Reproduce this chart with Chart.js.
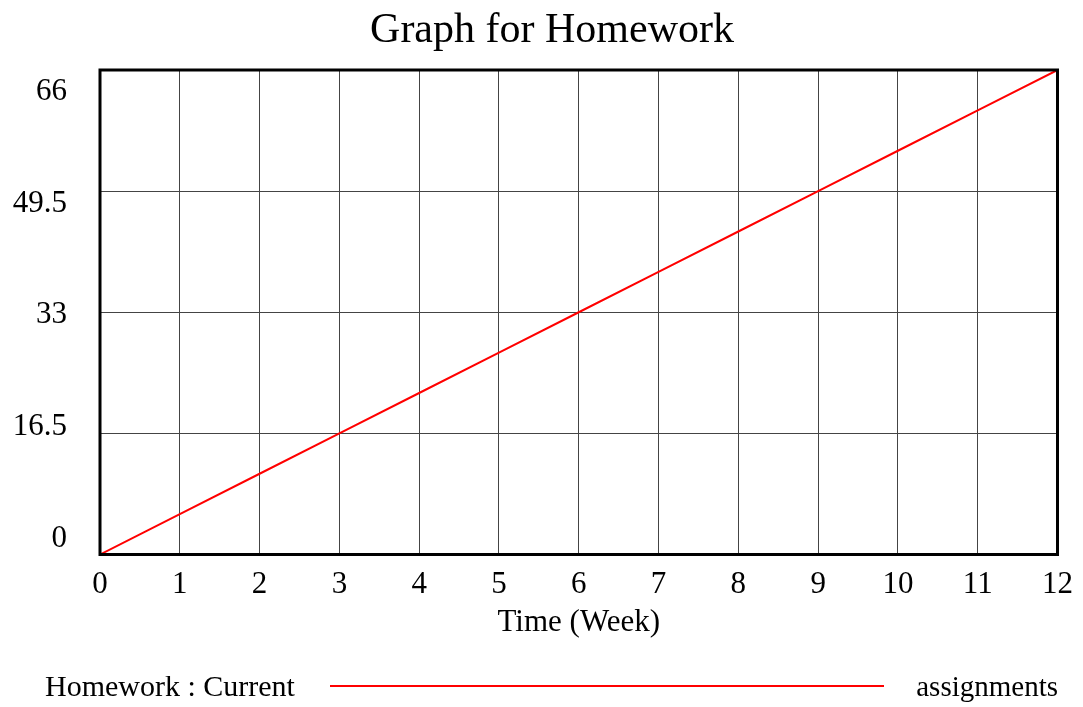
<!DOCTYPE html>
<html lang="en">
<head>
  <meta charset="UTF-8">
  <title>Graph for Homework</title>
  <script src="https://cdn.jsdelivr.net/npm/chart.js"></script>
  <style>
    html, body { margin: 0; padding: 0; background: #fff; }
    canvas { display: block; }
  </style>
</head>
<body>
  <canvas id="grafico" width="1083" height="707"></canvas>
  <script>
    // weeks and the homework assignments over time
    const semanas = [0, 1, 2, 3, 4, 5, 6, 7, 8, 9, 10, 11, 12];
    const tarefas = [0, 5.5, 11, 16.5, 22, 27.5, 33, 38.5, 44, 49.5, 55, 60.5, 66];
    const ticksY = [0, 16.5, 33, 49.5, 66];

    const titulo = 'Graph for Homework';
    const fonte = "'Liberation Serif', 'Times New Roman', serif";

    // title, frame around the plot area and the bottom legend row
    const moldura = {
      id: 'moldura',
      afterDatasetsDraw(chart) {
        const a = chart.chartArea;
        const ctx = chart.ctx;
        ctx.save();
        ctx.strokeStyle = '#000';
        ctx.lineWidth = 3;
        ctx.strokeRect(a.left, a.top, a.right - a.left, a.bottom - a.top);
        ctx.restore();
      },
      afterDraw(chart) {
        const ds = chart.data.datasets[0];
        const ctx = chart.ctx;
        ctx.save();
        ctx.fillStyle = '#000';
        ctx.textBaseline = 'middle';

        ctx.textAlign = 'center';
        ctx.font = '42px ' + fonte;
        ctx.fillText(titulo, 552, 31);

        ctx.textAlign = 'left';
        ctx.font = '30px ' + fonte;
        ctx.fillText('Homework : Current', 45, 688);
        ctx.textAlign = 'right';
        ctx.font = '29px ' + fonte;
        ctx.fillText(ds.label, 1058, 688);
        ctx.strokeStyle = ds.borderColor;
        ctx.lineWidth = 2;
        ctx.beginPath();
        ctx.moveTo(330, 686);
        ctx.lineTo(884, 686);
        ctx.stroke();
        ctx.restore();
      }
    };

    new Chart(document.getElementById('grafico'), {
      type: 'line',
      data: {
        datasets: [{
          label: 'assignments',
          data: semanas.map((s, i) => ({ x: s, y: tarefas[i] })),
          borderColor: '#ff0000',
          borderWidth: 2,
          pointRadius: 0,
          tension: 0,
          yAxisID: 'y'
        }]
      },
      options: {
        responsive: false,
        animation: false,
        layout: { padding: { left: 0, right: 25, top: 70, bottom: 66 } },
        plugins: {
          legend: { display: false },
          tooltip: { enabled: false },
          title: { display: false }
        },
        scales: {
          x: {
            type: 'linear',
            min: 0,
            max: 12,
            grid: { color: '#444', lineWidth: 1, drawTicks: false },
            border: { display: false },
            ticks: {
              stepSize: 1,
              color: '#000',
              padding: 10,
              font: { family: fonte, size: 31, lineHeight: 1.3 }
            },
            title: {
              display: true,
              text: 'Time (Week)',
              color: '#000',
              font: { family: fonte, size: 31 },
              padding: { top: -11, bottom: 0 }
            }
          },
          y: {
            min: 0,
            max: 66,
            grid: { color: '#444', lineWidth: 1, drawTicks: false },
            border: { display: false },
            ticks: { display: false },
            afterBuildTicks: s => { s.ticks = ticksY.map(v => ({ value: v })); }
          },
          // label axis: same values, labels spread a bit inside the frame
          yLabels: {
            position: 'left',
            weight: 1,
            min: -2.28,
            max: 69.17,
            grid: { display: false, drawTicks: false },
            border: { display: false },
            ticks: {
              color: '#000',
              padding: 33,
              font: { family: fonte, size: 31 },
              callback: v => String(v)
            },
            afterBuildTicks: s => { s.ticks = ticksY.map(v => ({ value: v })); },
            afterFit: s => { s.width = 100; }
          }
        }
      },
      plugins: [moldura]
    });
  </script>
</body>
</html>
